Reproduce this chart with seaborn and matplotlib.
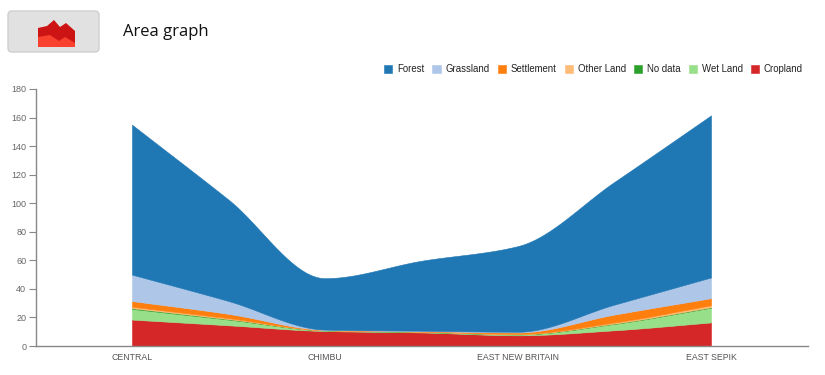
import numpy as np
import seaborn as sns
from matplotlib import pyplot as plt
from matplotlib.patches import FancyBboxPatch, Polygon

# 7 provinces on the axis, only every second one has a label
tick_labels = ['CENTRAL', '', 'CHIMBU', '', 'EAST NEW BRITAIN', '', 'EAST SEPIK']

cropland = [18.5, 14.5, 10.5, 9.5, 7.5, 11.0, 16.5]
wet_land = [7.5, 4.0, 0.4, 0.3, 0.6, 4.5, 10.3]
no_data = [0.5, 0.3, 0.1, 0.1, 0.1, 0.2, 0.3]
other_land = [1.0, 0.7, 0.1, 0.2, 0.3, 0.8, 1.4]
settlement = [4.0, 3.0, 0.2, 0.3, 1.0, 5.5, 5.0]
grassland = [18.5, 9.0, 0.2, 0.3, 0.5, 7.0, 14.5]
forest = [105.0, 71.0, 36.0, 49.0, 60.0, 86.0, 113.5]

series_names = ['Cropland', 'Wet Land', 'No data', 'Other Land', 'Settlement', 'Grassland', 'Forest']
series_values = [cropland, wet_land, no_data, other_land, settlement, grassland, forest]
legend_order = ['Forest', 'Grassland', 'Settlement', 'Other Land', 'No data', 'Wet Land', 'Cropland']
y_ticks = list(range(0, 181, 20))


def monotone_curve(x, y, x_new):
    # Fritsch-Carlson style monotone cubic, same look as d3 curveMonotoneX
    x = np.asarray(x, dtype=float)
    y = np.asarray(y, dtype=float)
    h = np.diff(x)
    s = np.diff(y) / h
    m = np.zeros_like(y)
    m[0], m[-1] = s[0], s[-1]
    for i in range(1, len(y) - 1):
        if s[i - 1] * s[i] > 0:
            m[i] = 2 * s[i - 1] * s[i] / (s[i - 1] + s[i])
    idx = np.clip(np.searchsorted(x, x_new, side='right') - 1, 0, len(h) - 1)
    t = (x_new - x[idx]) / h[idx]
    return ((2 * t**3 - 3 * t**2 + 1) * y[idx] + (t**3 - 2 * t**2 + t) * h[idx] * m[idx]
            + (-2 * t**3 + 3 * t**2) * y[idx + 1] + (t**3 - t**2) * h[idx] * m[idx + 1])


def main():
    sns.set_style('white')
    plt.rcParams['font.family'] = ['Liberation Sans', 'DejaVu Sans']

    tab20 = sns.color_palette('tab20')
    colors = {'Forest': tab20[0], 'Grassland': tab20[1], 'Settlement': tab20[2], 'Other Land': tab20[3],
              'No data': tab20[4], 'Wet Land': tab20[5], 'Cropland': tab20[6]}

    W, H = 825, 375
    fig = plt.figure(figsize=(W / 100, H / 100), dpi=100)
    ax = fig.add_axes([36 / W, 1 - 346 / H, (808 - 36) / W, (346 - 89) / H])

    x = np.arange(len(tick_labels))
    x_dense = np.linspace(0, len(x) - 1, 600)
    cumulative = np.cumsum(np.array(series_values), axis=0)

    lower = np.zeros_like(x_dense)
    handles = {}
    for name, top in zip(series_names, cumulative):
        upper = monotone_curve(x, top, x_dense)
        handles[name] = ax.fill_between(x_dense, lower, upper, color=colors[name], linewidth=0.4, label=name)
        lower = upper

    step = (711 - 132) / 6
    ax.set_xlim((36 - 132) / step, (808 - 132) / step)
    ax.set_ylim(0, 180)
    ax.set_xticks(x)
    ax.set_xticklabels(tick_labels)
    ax.set_yticks(y_ticks)
    ax.tick_params(axis='x', length=0, pad=5, labelsize=6.3, labelcolor='#555555')
    ax.tick_params(axis='y', left=True, length=5, width=0.8, color='#888888', pad=2, labelsize=6.5, labelcolor='#666666')
    sns.despine(ax=ax)
    for side in ['left', 'bottom']:
        ax.spines[side].set_color('#888888')
        ax.spines[side].set_linewidth(1.0)

    fig.legend([handles[n] for n in legend_order], legend_order, loc='upper right',
               bbox_to_anchor=(803 / W, 1 - 64 / H), ncol=7, frameon=False, fontsize=6.9,
               handlelength=0.85, handleheight=0.85, handletextpad=0.55, columnspacing=0.8,
               borderpad=0, borderaxespad=0, labelcolor='#222222')

    # button with the little area icon, top left
    overlay = fig.add_axes([0, 0, 1, 1], facecolor='none')
    overlay.set_xlim(0, W)
    overlay.set_ylim(H, 0)
    overlay.axis('off')
    overlay.add_patch(FancyBboxPatch((8, 11), 91, 41, boxstyle='round,pad=0,rounding_size=4',
                                     facecolor='#e1e1e1', edgecolor='#cfcfcf', linewidth=1))
    overlay.add_patch(Polygon([(38, 28), (47, 26), (54, 20), (60, 27), (66, 23), (75, 31), (75, 47), (38, 47)],
                              facecolor='#cc1414', edgecolor='none'))
    overlay.add_patch(Polygon([(38, 37), (50, 35), (59, 41), (65, 37), (75, 43), (75, 47), (38, 47)],
                              facecolor='#f8412f', edgecolor='none'))
    overlay.text(123, 32.5, 'Area graph', fontsize=12, color='#111111', va='center', ha='left',
                 family=['Open Sans', 'DejaVu Sans'])

    fig.savefig('out.png', dpi=100)


if __name__ == '__main__':
    main()
